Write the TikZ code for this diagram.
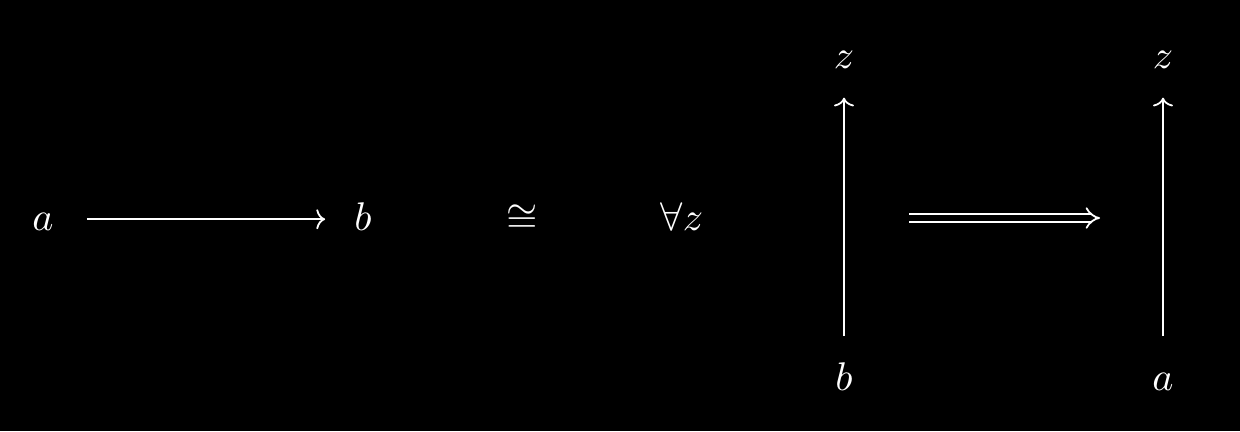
\documentclass[tikz,border=0pt]{standalone}
\usetikzlibrary{arrows.meta}
\begin{document}
\begin{tikzpicture}[x=1pt,y=1pt,
  lbl/.style={text=white,text height=1.5ex,text depth=.25ex,inner sep=3.33pt},
  arr/.style={draw=white,line width=0.45pt,-{To[length=2.2pt,width=5pt]}},
  dbl/.style={draw=white,line width=0.45pt,double=black,double distance=1.4pt,-{Implies}}]
\fill[black] (0,0) rectangle (310,107.75);
\useasboundingbox (0,0) rectangle (310,107.75);
\node[lbl,anchor=base] (a1) at (10.75,50.25) {$a$};
\node[lbl,anchor=base] (b1) at (90.75,50.25) {$b$};
\node[lbl,anchor=base] (cong) at (130.5,50.25) {$\cong$};
\node[lbl,anchor=base] (fz) at (170.5,50.25) {$\forall z$};
\node[lbl,anchor=base] (z1) at (211,90.75) {$z$};
\node[lbl,anchor=base] (b2) at (211,10.25) {$b$};
\node[lbl,anchor=base] (z2) at (290.75,90.75) {$z$};
\node[lbl,anchor=base] (a2) at (290.75,10.25) {$a$};
\coordinate (dl) at (227.25,53.25);
\coordinate (dr) at (275,53.25);
\draw[arr,shorten <=4.8pt,shorten >=3.8pt] (a1) -- (b1);
\draw[arr,shorten <=3.5pt,shorten >=2.8pt] (b2) -- (z1);
\draw[arr,shorten <=3.5pt,shorten >=2.8pt] (a2) -- (z2);
\draw[dbl] (dl) -- (dr);
\end{tikzpicture}
\end{document}
